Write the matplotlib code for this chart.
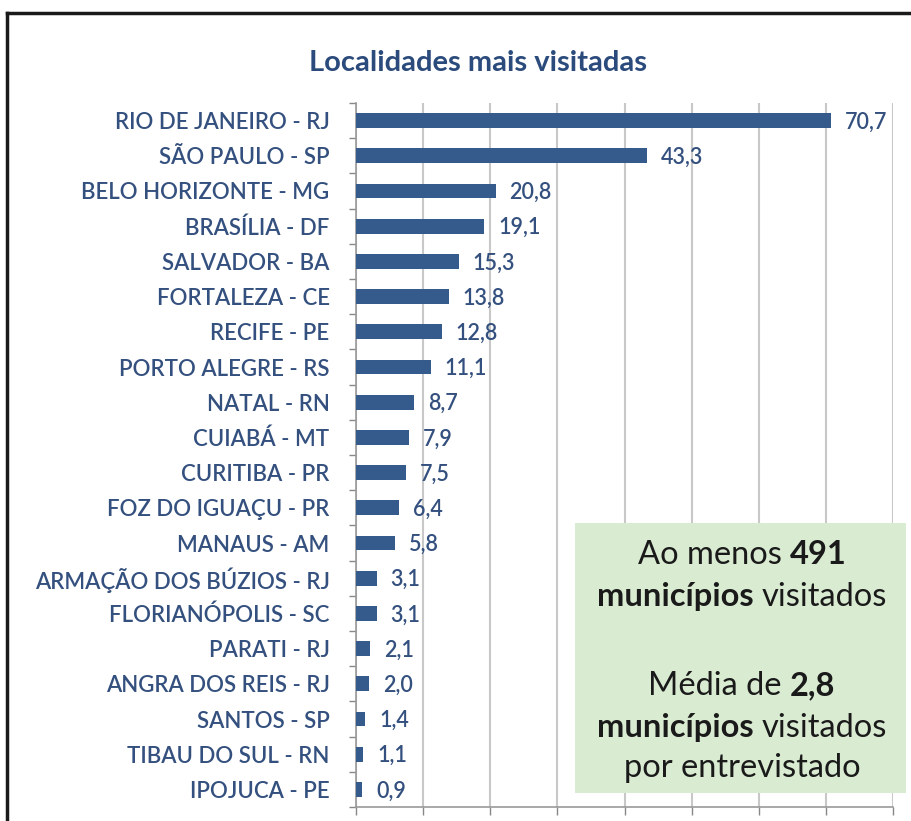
import numpy as np
import matplotlib
matplotlib.use("Agg")
import matplotlib.pyplot as plt
from matplotlib.patches import Rectangle
from matplotlib.lines import Line2D
from matplotlib.offsetbox import TextArea, HPacker, AnnotationBbox

# dados
localidades = ["RIO DE JANEIRO - RJ", "SÃO PAULO - SP", "BELO HORIZONTE - MG",
               "BRASÍLIA - DF", "SALVADOR - BA", "FORTALEZA - CE", "RECIFE - PE",
               "PORTO ALEGRE - RS", "NATAL - RN", "CUIABÁ - MT", "CURITIBA - PR",
               "FOZ DO IGUAÇU - PR", "MANAUS - AM", "ARMAÇÃO DOS BÚZIOS - RJ",
               "FLORIANÓPOLIS - SC", "PARATI - RJ", "ANGRA DOS REIS - RJ",
               "SANTOS - SP", "TIBAU DO SUL - RN", "IPOJUCA - PE"]
percentuais = [70.7, 43.3, 20.8, 19.1, 15.3, 13.8, 12.8, 11.1, 8.7, 7.9, 7.5,
               6.4, 5.8, 3.1, 3.1, 2.1, 2.0, 1.4, 1.1, 0.9]
titulo = "Localidades mais visitadas"
caixa_linhas = [
    [("Ao menos", "normal"), ("491", "bold")],
    [("municípios", "bold"), ("visitados", "normal")],
    [("Média de", "normal"), ("2,8", "bold")],
    [("municípios", "bold"), ("visitados", "normal")],
    [("por entrevistado", "normal")],
]

plt.rcParams["font.family"] = ["Lato", "DejaVu Sans"]

W, H = 911, 821
fig = plt.figure(figsize=(W / 100, H / 100), dpi=100)

cor_barra = "#355a8c"
cor_texto = "#34507e"

ax = fig.add_axes([356 / W, 1 - 807 / H, (893 - 356) / W, (807 - 103) / H])
y = np.arange(len(localidades))
ax.barh(y, percentuais, height=0.42, color=cor_barra, zorder=3)
ax.set_ylim(len(localidades) - 0.5, -0.5)
ax.set_xlim(0, 80)

for yi, v in zip(y, percentuais):
    ax.annotate(f"{v:.1f}".replace(".", ","), (v, yi), xytext=(10, -1),
                textcoords="offset points", va="center", ha="left",
                fontsize=15.5, fontweight="semibold", color=cor_texto)

ax.set_yticks(y)
ax.set_yticklabels(localidades, fontsize=16, fontweight="semibold", color=cor_texto)
ax.set_yticks(np.arange(len(localidades) + 1) - 0.5, minor=True)
ax.tick_params(axis="y", which="major", length=0, pad=19)
ax.tick_params(axis="y", which="minor", length=5, color="#888888", width=1)
ax.set_xticks(np.arange(0, 81, 10))
ax.set_xticklabels([])
ax.tick_params(axis="x", length=6, color="#888888", width=1)
ax.grid(axis="x", color="#c8c8c8", lw=1.5, zorder=0)
for s in ["top", "right"]:
    ax.spines[s].set_visible(False)
for s in ["left", "bottom"]:
    ax.spines[s].set_color("#999999")
    ax.spines[s].set_linewidth(1.2)

fig.text(478 / W, 1 - 63 / H, titulo, ha="center", va="center",
         fontsize=21, fontweight="bold", color="#2b4b7c")

# moldura (so topo e lado esquerdo aparecem)
fig.add_artist(Line2D([7 / W, 1.0], [1 - 13 / H, 1 - 13 / H],
                      transform=fig.transFigure, color="#1a1a1a", lw=2.5))
fig.add_artist(Line2D([7 / W, 7 / W], [0, 1 - 13 / H],
                      transform=fig.transFigure, color="#1a1a1a", lw=2.5))

# caixa verde
fig.patches.append(Rectangle((575 / W, 1 - 793 / H), (906 - 575) / W, (793 - 523) / H,
                             transform=fig.transFigure, facecolor="#d9ebd1",
                             edgecolor="none", zorder=5))

ys = [555, 597, 686, 728, 768]
for linha, yl in zip(caixa_linhas, ys):
    partes = [TextArea(t, textprops=dict(fontsize=23.5, fontweight=w, color="#1a1a1a"))
              for t, w in linha]
    pack = HPacker(children=partes, align="baseline", pad=0, sep=6)
    ab = AnnotationBbox(pack, (742 / W, 1 - yl / H), xycoords="figure fraction",
                        frameon=False, box_alignment=(0.5, 0.5), zorder=6)
    fig.add_artist(ab)

fig.savefig("out.png", dpi=100)
